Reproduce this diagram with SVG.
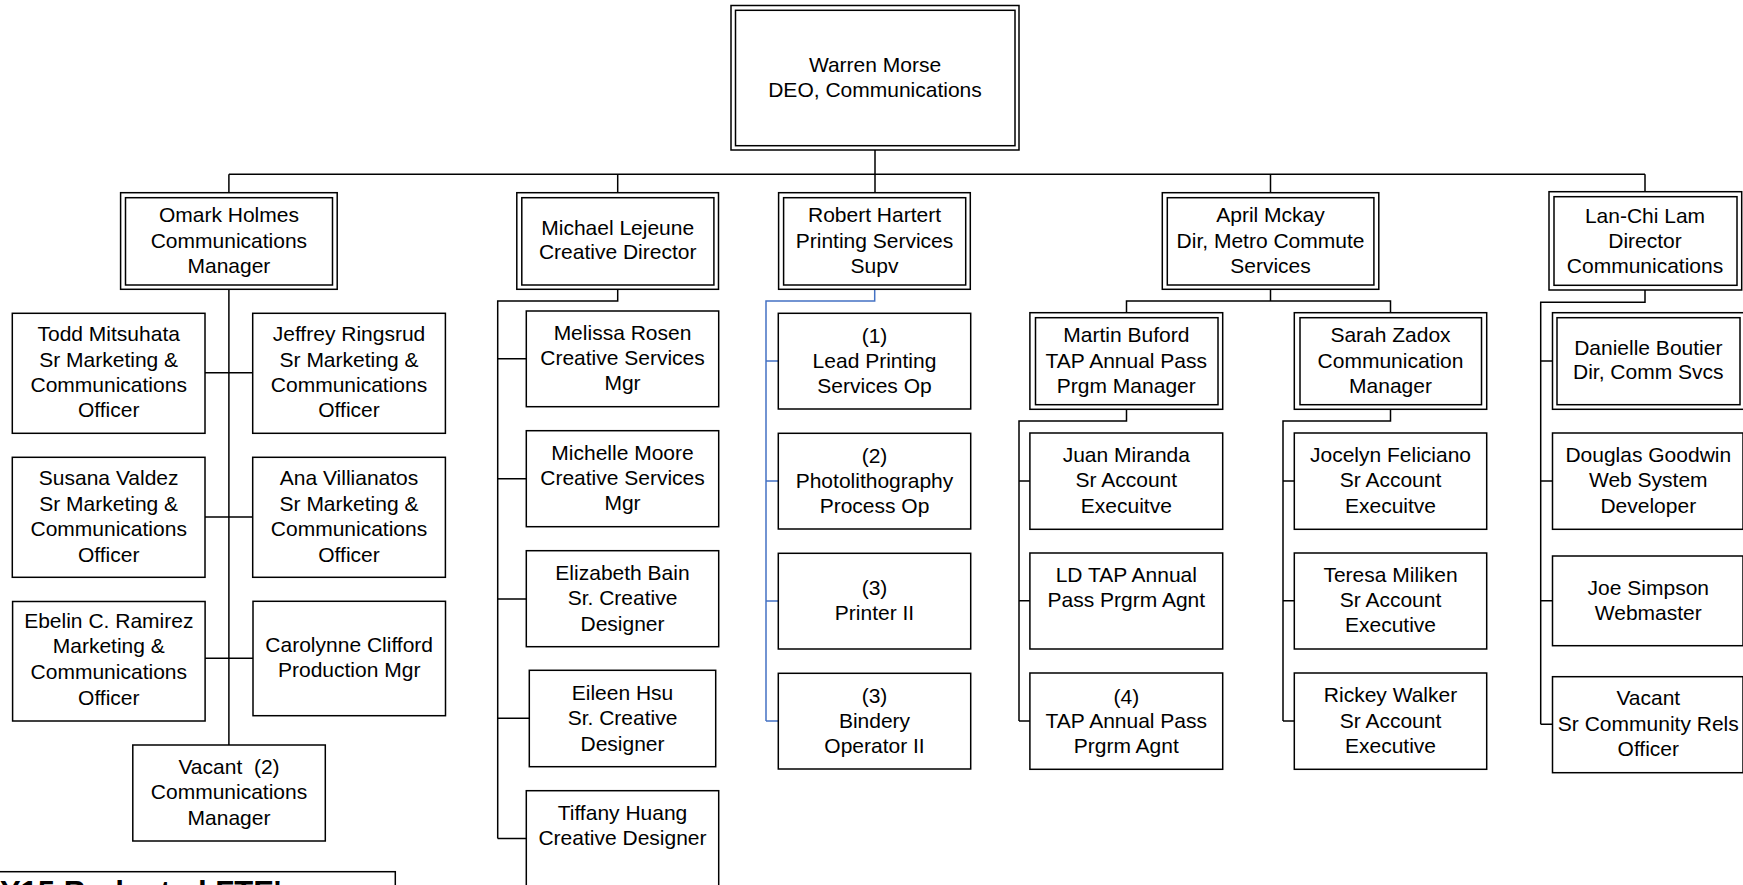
<svg xmlns="http://www.w3.org/2000/svg" width="1743" height="885" viewBox="0 0 1743 885">
<style>
.b{fill:#fff;stroke:#000;stroke-width:1.5}
.d{fill:none;stroke:#000;stroke-width:1.5}
.t{font-family:"Liberation Sans",Arial,sans-serif;font-size:21px;text-anchor:middle;fill:#000}
.c{fill:none;stroke:#000;stroke-width:1.5}
.cb{fill:none;stroke:#4472C4;stroke-width:1.5}
.ft{font-family:"Liberation Sans",Arial,sans-serif;font-size:31px;font-weight:bold;fill:#000}
</style>
<rect width="1743" height="885" fill="#fff"/>
<g id="connectors">
<path class="c" d="M875,150V174.3M228.9,174.3H1645M228.9,174.3V192.7M617.7,174.3V192.7M875,174.3V192.7M1270.5,174.3V192.7M1645,174.3V191.7"/>
<path class="c" d="M228.9,289.3V745M205,372.7H252.7M205,517H252.7M205,658.3H253"/>
<path class="c" d="M617.7,289.3V301H497.7V838.5M497.7,358.7H526.3M497.7,478.7H526.3M497.7,599H526.3M497.7,718.3H529.3M497.7,838.5H526.3"/>
<path class="cb" d="M874.7,289.3V301H766V721M766,361H778.3M766,481H778.3M766,601H778.3M766,721H778.3"/>
<path class="c" d="M1270.5,289.3V301M1126.5,312.7V301H1390.5V312.7"/>
<path class="c" d="M1126.5,409.3V421H1019V721M1019,481H1029.9M1019,600.7H1029.9M1019,721H1029.9"/>
<path class="c" d="M1390.5,409.3V421H1283V721M1283,481H1294.3M1283,600.7H1294.3M1283,721H1294.3"/>
<path class="c" d="M1645,290V302.3H1540.7V724.3M1540.7,361H1552.5M1540.7,481H1552.5M1540.7,600.7H1552.5M1540.7,724.3H1552.5"/>
</g>
<g id="warren"><rect class="b" x="731" y="5.5" width="288" height="144.5"/><rect class="d" x="735.5" y="10.3" width="279.5" height="135.4"/>
<text class="t"><tspan x="875" y="71.7">Warren Morse</tspan><tspan x="875" y="96.7">DEO, Communications</tspan></text></g>
<g id="omark"><rect class="b" x="120.6" y="192.7" width="216.6" height="96.6"/><rect class="d" x="125.5" y="197.7" width="207" height="87.3"/>
<text class="t"><tspan x="228.9" y="221.7">Omark Holmes</tspan><tspan x="228.9" y="247.7">Communications</tspan><tspan x="228.9" y="273.3">Manager</tspan></text></g>
<g id="michael"><rect class="b" x="516.8" y="192.7" width="201.7" height="96.6"/><rect class="d" x="521.8" y="197.7" width="192.1" height="87.3"/>
<text class="t"><tspan x="617.7" y="235">Michael Lejeune</tspan><tspan x="617.7" y="259.3">Creative Director</tspan></text></g>
<g id="robert"><rect class="b" x="778.6" y="192.7" width="191.7" height="96.6"/><rect class="d" x="783.6" y="197.7" width="182.1" height="87.3"/>
<text class="t"><tspan x="874.5" y="221.7">Robert Hartert</tspan><tspan x="874.5" y="247.7">Printing Services</tspan><tspan x="874.5" y="273.3">Supv</tspan></text></g>
<g id="april"><rect class="b" x="1162.3" y="192.7" width="216.5" height="96.6"/><rect class="d" x="1167.3" y="197.7" width="206.6" height="87.3"/>
<text class="t"><tspan x="1270.5" y="221.7">April Mckay</tspan><tspan x="1270.5" y="247.7">Dir, Metro Commute</tspan><tspan x="1270.5" y="273.3">Services</tspan></text></g>
<g id="lanchi"><rect class="b" x="1549" y="191.7" width="192.7" height="98.3"/><rect class="d" x="1554" y="196.7" width="183" height="88.6"/>
<text class="t"><tspan x="1645" y="222.5">Lan-Chi Lam</tspan><tspan x="1645" y="247.5">Director</tspan><tspan x="1645" y="272.5">Communications</tspan></text></g>

<g id="todd"><rect class="b" x="12.3" y="313.3" width="192.7" height="120"/>
<text class="t"><tspan x="108.7" y="341">Todd Mitsuhata</tspan><tspan x="108.7" y="366.7">Sr Marketing &amp;</tspan><tspan x="108.7" y="391.7">Communications</tspan><tspan x="108.7" y="417.3">Officer</tspan></text></g>
<g id="jeffrey"><rect class="b" x="252.7" y="313.3" width="192.7" height="120"/>
<text class="t"><tspan x="349" y="341">Jeffrey Ringsrud</tspan><tspan x="349" y="366.7">Sr Marketing &amp;</tspan><tspan x="349" y="391.7">Communications</tspan><tspan x="349" y="417.3">Officer</tspan></text></g>
<g id="susana"><rect class="b" x="12.3" y="457.3" width="192.7" height="120"/>
<text class="t"><tspan x="108.7" y="485">Susana Valdez</tspan><tspan x="108.7" y="510.7">Sr Marketing &amp;</tspan><tspan x="108.7" y="536">Communications</tspan><tspan x="108.7" y="561.7">Officer</tspan></text></g>
<g id="ana"><rect class="b" x="252.7" y="457.3" width="192.7" height="120"/>
<text class="t"><tspan x="349" y="485">Ana Villianatos</tspan><tspan x="349" y="510.7">Sr Marketing &amp;</tspan><tspan x="349" y="536">Communications</tspan><tspan x="349" y="561.7">Officer</tspan></text></g>
<g id="ebelin"><rect class="b" x="12.6" y="601.5" width="192.5" height="119.5"/>
<text class="t"><tspan x="108.8" y="627.7">Ebelin C. Ramirez</tspan><tspan x="108.8" y="653.3">Marketing &amp;</tspan><tspan x="108.8" y="679">Communications</tspan><tspan x="108.8" y="705">Officer</tspan></text></g>
<g id="carolynne"><rect class="b" x="253" y="601.3" width="192.5" height="114.4"/>
<text class="t"><tspan x="349.2" y="651.7">Carolynne Clifford</tspan><tspan x="349.2" y="677.3">Production Mgr</tspan></text></g>
<g id="vacant2"><rect class="b" x="132.8" y="745" width="192.5" height="96"/>
<text class="t" xml:space="preserve"><tspan x="229" y="774.3">Vacant  (2)</tspan><tspan x="229" y="799.3">Communications</tspan><tspan x="229" y="825">Manager</tspan></text></g>

<g id="melissa"><rect class="b" x="526.3" y="311" width="192.4" height="95.7"/>
<text class="t"><tspan x="622.5" y="340">Melissa Rosen</tspan><tspan x="622.5" y="365">Creative Services</tspan><tspan x="622.5" y="390">Mgr</tspan></text></g>
<g id="michelle"><rect class="b" x="526.3" y="430.7" width="192.4" height="96"/>
<text class="t"><tspan x="622.5" y="460">Michelle Moore</tspan><tspan x="622.5" y="485">Creative Services</tspan><tspan x="622.5" y="510">Mgr</tspan></text></g>
<g id="elizabeth"><rect class="b" x="526.3" y="550.7" width="192.4" height="96"/>
<text class="t"><tspan x="622.5" y="579.5">Elizabeth Bain</tspan><tspan x="622.5" y="605">Sr. Creative</tspan><tspan x="622.5" y="630.7">Designer</tspan></text></g>
<g id="eileen"><rect class="b" x="529.3" y="670.3" width="186.4" height="96.4"/>
<text class="t"><tspan x="622.5" y="700">Eileen Hsu</tspan><tspan x="622.5" y="725">Sr. Creative</tspan><tspan x="622.5" y="750.7">Designer</tspan></text></g>
<g id="tiffany"><rect class="b" x="526.3" y="790.7" width="192.4" height="110"/>
<text class="t"><tspan x="622.5" y="820">Tiffany Huang</tspan><tspan x="622.5" y="845">Creative Designer</tspan></text></g>

<g id="lead"><rect class="b" x="778.3" y="313.3" width="192.4" height="95.7"/>
<text class="t"><tspan x="874.5" y="343.3">(1)</tspan><tspan x="874.5" y="368.3">Lead Printing</tspan><tspan x="874.5" y="393.3">Services Op</tspan></text></g>
<g id="photo"><rect class="b" x="778.3" y="433.3" width="192.4" height="95.7"/>
<text class="t"><tspan x="874.5" y="463.3">(2)</tspan><tspan x="874.5" y="488.3">Photolithography</tspan><tspan x="874.5" y="513.3">Process Op</tspan></text></g>
<g id="printer"><rect class="b" x="778.3" y="553.3" width="192.4" height="95.7"/>
<text class="t"><tspan x="874.5" y="595">(3)</tspan><tspan x="874.5" y="620">Printer II</tspan></text></g>
<g id="bindery"><rect class="b" x="778.3" y="673.3" width="192.4" height="95.7"/>
<text class="t"><tspan x="874.5" y="702.7">(3)</tspan><tspan x="874.5" y="727.7">Bindery</tspan><tspan x="874.5" y="752.7">Operator II</tspan></text></g>

<g id="martin"><rect class="b" x="1029.9" y="312.7" width="192.8" height="96.6"/><rect class="d" x="1035.5" y="317.7" width="182.5" height="87"/>
<text class="t"><tspan x="1126.3" y="342.3">Martin Buford</tspan><tspan x="1126.3" y="368.3">TAP Annual Pass</tspan><tspan x="1126.3" y="393.3">Prgm Manager</tspan></text></g>
<g id="sarah"><rect class="b" x="1294.3" y="312.7" width="192.4" height="96.6"/><rect class="d" x="1300" y="317.7" width="181.5" height="87"/>
<text class="t"><tspan x="1390.5" y="342.3">Sarah Zadox</tspan><tspan x="1390.5" y="368.3">Communication</tspan><tspan x="1390.5" y="393.3">Manager</tspan></text></g>
<g id="juan"><rect class="b" x="1029.9" y="433" width="192.8" height="96.3"/>
<text class="t"><tspan x="1126.3" y="461.7">Juan Miranda</tspan><tspan x="1126.3" y="487.3">Sr Account</tspan><tspan x="1126.3" y="512.7">Execuitve</tspan></text></g>
<g id="ldtap"><rect class="b" x="1029.9" y="553" width="192.8" height="96"/>
<text class="t"><tspan x="1126.3" y="581.7">LD TAP Annual</tspan><tspan x="1126.3" y="607.3">Pass Prgrm Agnt</tspan></text></g>
<g id="tap4"><rect class="b" x="1029.9" y="673" width="192.8" height="96.3"/>
<text class="t"><tspan x="1126.3" y="704">(4)</tspan><tspan x="1126.3" y="727.7">TAP Annual Pass</tspan><tspan x="1126.3" y="752.7">Prgrm Agnt</tspan></text></g>
<g id="jocelyn"><rect class="b" x="1294.3" y="433" width="192.4" height="96.3"/>
<text class="t"><tspan x="1390.5" y="461.7">Jocelyn Feliciano</tspan><tspan x="1390.5" y="487.3">Sr Account</tspan><tspan x="1390.5" y="512.7">Execuitve</tspan></text></g>
<g id="teresa"><rect class="b" x="1294.3" y="553" width="192.4" height="96"/>
<text class="t"><tspan x="1390.5" y="581.7">Teresa Miliken</tspan><tspan x="1390.5" y="607.3">Sr Account</tspan><tspan x="1390.5" y="632.3">Executive</tspan></text></g>
<g id="rickey"><rect class="b" x="1294.3" y="673" width="192.4" height="96.3"/>
<text class="t"><tspan x="1390.5" y="702">Rickey Walker</tspan><tspan x="1390.5" y="727.7">Sr Account</tspan><tspan x="1390.5" y="752.7">Executive</tspan></text></g>

<g id="danielle"><rect class="b" x="1552.5" y="312.7" width="195" height="96.6"/><rect class="d" x="1557" y="317.7" width="183" height="87"/>
<text class="t"><tspan x="1648.3" y="355">Danielle Boutier</tspan><tspan x="1648.3" y="379.3">Dir, Comm Svcs</tspan></text></g>
<g id="douglas"><rect class="b" x="1552.5" y="433" width="190.5" height="96.3"/>
<text class="t"><tspan x="1648.3" y="461.7">Douglas Goodwin</tspan><tspan x="1648.3" y="487.3">Web System</tspan><tspan x="1648.3" y="512.7">Developer</tspan></text></g>
<g id="joe"><rect class="b" x="1552.5" y="556" width="190.5" height="89.7"/>
<text class="t"><tspan x="1648.3" y="595">Joe Simpson</tspan><tspan x="1648.3" y="620">Webmaster</tspan></text></g>
<g id="vacantsr"><rect class="b" x="1552.5" y="676.7" width="190.5" height="96"/>
<text class="t"><tspan x="1648.3" y="705">Vacant</tspan><tspan x="1648.3" y="730.7">Sr Community Rels</tspan><tspan x="1648.3" y="756">Officer</tspan></text></g>

<g id="fte"><rect class="b" x="-10" y="871.7" width="405.3" height="60"/>
<text class="ft" x="-19" y="903">FY15 Budgeted FTE's</text></g>
</svg>
